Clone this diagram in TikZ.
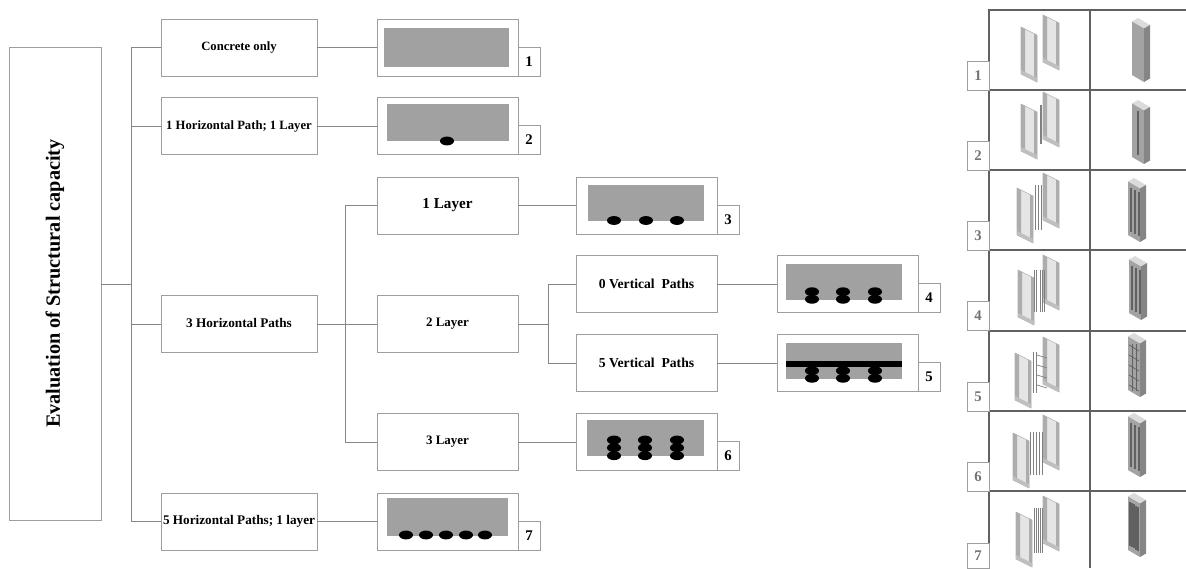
\documentclass[tikz,border=0pt]{standalone}
\usepackage{xcolor}
\usepackage{fontspec}
\setmainfont{Liberation Serif}
\usepackage{tikz}
\usetikzlibrary{arrows.meta,positioning,shapes.geometric,calc,fit,backgrounds}
\definecolor{boxline}{gray}{0.62}
\definecolor{conc}{gray}{0.63}
\tikzset{
  optbox/.style={draw=boxline, line width=0.7pt, fill=white, inner sep=0pt, align=center,
             font=\bfseries\fontsize{9}{11}\selectfont},
  numbox/.style={optbox, font=\bfseries\fontsize{10.5}{12}\selectfont},
  tabnum/.style={draw=boxline, line width=0.6pt, fill=white, inner sep=0pt, text=black!55,
             font=\bfseries\fontsize{10.5}{12}\selectfont},
  link/.style={draw=boxline!85!black, line width=0.7pt},
  gridl/.style={draw=black!62, line width=1pt},
  sect/.style={fill=conc, draw=none},
  bar/.style={ellipse, fill=black, draw=none, minimum width=10pt, minimum height=6.3pt, inner sep=0pt},
  rodl/.style={draw=black!50, line width=0.5pt},
  skin/.style={fill=black!10, draw=black!30, line width=0.4pt},
  edgef/.style={fill=black!32, draw=none},
  colside/.style={fill=black!36, draw=none},
  coldark/.style={fill=black!48, draw=none},
  coltop/.style={fill=black!14, draw=none},
  stripe/.style={draw=black!62, line width=0.8pt},
  pics/wallpanel/.style={code={
    \path[skin] (0,0) -- (16,8) -- (16,55) -- (0,47) -- cycle;
    \path[edgef] (0,0) -- (4,2) -- (4,49) -- (0,47) -- cycle;
    \path[edgef] (13,6.5) -- (16,8) -- (16,55) -- (13,53.5) -- cycle;
    \path[fill=black!25] (0,43) -- (16,51) -- (16,55) -- (0,47) -- cycle;
  }},
  pics/fullcol/.style={code={
    \path[coltop] (0,3.5) -- (6,0) -- (18,7) -- (12,10.5) -- cycle;
    \path[colside] (0,3.5) -- (12,10.5) -- (12,64) -- (0,57) -- cycle;
    \path[coldark] (12,10.5) -- (18,7) -- (18,60.5) -- (12,64) -- cycle;
  }},
}

\begin{document}
\begin{tikzpicture}[x=0.025cm,y=-0.025cm]
    \useasboundingbox (0,0) rectangle (1186,568);

    % main tree
    \node[optbox, minimum width=92*0.025cm, minimum height=473*0.025cm] (root) at (55,283.5)
      {\rotatebox{90}{\fontsize{14.4}{16}\selectfont Evaluation of Structural capacity}};
    \node[optbox, minimum width=156*0.025cm, minimum height=57*0.025cm] (conc) at (239,47.5) {Concrete only};
    \node[optbox, minimum width=156*0.025cm, minimum height=57*0.025cm] (hone) at (239,126) {1 Horizontal Path; 1 Layer};
    \node[optbox, minimum width=156*0.025cm, minimum height=57*0.025cm] (hthree) at (239,324) {\raisebox{2pt}{\fontsize{9.4}{11}\selectfont 3 Horizontal Paths}};
    \node[optbox, minimum width=156*0.025cm, minimum height=57*0.025cm] (hfive) at (239,521.5) {\fontsize{9.4}{11}\selectfont 5 Horizontal Paths; 1 layer};

    \node[optbox, minimum width=141*0.025cm, minimum height=57*0.025cm] (lone) at (447.5,205.5) {\fontsize{10.8}{12}\selectfont 1 Layer};
    \node[optbox, minimum width=141*0.025cm, minimum height=57*0.025cm] (ltwo) at (447.5,324) {\fontsize{9.2}{11}\selectfont 2 Layer};
    \node[optbox, minimum width=141*0.025cm, minimum height=57*0.025cm] (lthree) at (447.5,442) {\fontsize{9.2}{11}\selectfont 3 Layer};

    \node[optbox, minimum width=141*0.025cm, minimum height=57*0.025cm] (vzero) at (646.5,284) {\fontsize{9.7}{11}\selectfont 0 Vertical~ Paths};
    \node[optbox, minimum width=141*0.025cm, minimum height=57*0.025cm] (vfive) at (646.5,363) {\fontsize{9.7}{11}\selectfont 5 Vertical~ Paths};

    % section pictures
    \node[optbox, minimum width=141*0.025cm, minimum height=57*0.025cm] (secone) at (447.5,47.5) {};
    \node[optbox, minimum width=141*0.025cm, minimum height=57*0.025cm] (sectwo) at (447.5,126) {};
    \node[optbox, minimum width=141*0.025cm, minimum height=57*0.025cm] (secthree) at (646.5,205.5) {};
    \node[optbox, minimum width=141*0.025cm, minimum height=57*0.025cm] (secfour) at (847.5,284) {};
    \node[optbox, minimum width=141*0.025cm, minimum height=57*0.025cm] (secfive) at (847.5,363) {};
    \node[optbox, minimum width=141*0.025cm, minimum height=57*0.025cm] (secsix) at (646.5,442) {};
    \node[optbox, minimum width=141*0.025cm, minimum height=57*0.025cm] (secseven) at (447.5,521.5) {};

    \path[sect] (384,28) rectangle (509,67);
    \path[sect] (387,104) rectangle (509,141);
    \path[sect] (588,185) rectangle (704,221);
    \path[sect] (786,264) rectangle (902,300);
    \path[sect] (786,343) rectangle (902,379);
    \path[sect] (587,420) rectangle (704,456);
    \path[sect] (387,498) rectangle (508,536);
    \path[fill=black] (786,361) rectangle (902,367);

    \node[bar] (bb) at (447,141) {};
    \foreach \x in {614,646,677} \node[bar] (bc\x) at (\x,220.5) {};
    \foreach \x in {812,843,875} {
      \node[bar] (bd\x) at (\x,291.7) {};
      \node[bar] (be\x) at (\x,299.3) {};
      \node[bar] (bf\x) at (\x,370.7) {};
      \node[bar] (bg\x) at (\x,378.3) {};
    }
    \foreach \x in {614,645,677} {
      \node[bar] (bh\x) at (\x,440) {};
      \node[bar] (bi\x) at (\x,447.7) {};
      \node[bar] (bj\x) at (\x,455.7) {};
    }
    \foreach \x in {406,426,446,466,485} \node[bar] (bk\x) at (\x,535) {};

    % number tags
    \foreach \nm/\x/\y/\t in {tagone/529/62/1,tagtwo/529/140/2,tagthree/728/219.5/3,tagfour/929/297.5/4,
                              tagfive/929/376.5/5,tagsix/728/455.5/6,tagseven/529/536/7}
      \node[numbox, minimum width=22*0.025cm, minimum height=29*0.025cm] (\nm) at (\x,\y) {\t};

    % connectors
    \coordinate (trunk) at (131,284);
    \coordinate (trunkb) at (345,324);
    \coordinate (trunkc) at (548,324);
    \draw[link] (root.east |- trunk) -- (trunk);
    \draw[link] (conc.west) -| (trunk);
    \draw[link] (hone.west) -- (hone.west -| trunk);
    \draw[link] (hthree.west) -- (hthree.west -| trunk);
    \draw[link] (hfive.west) -| (trunk);
    \draw[link] (hthree.east) -- (ltwo.west);
    \draw[link] (lone.west) -| (trunkb);
    \draw[link] (lthree.west) -| (trunkb);
    \draw[link] (ltwo.east) -- (trunkc);
    \draw[link] (vzero.west) -| (trunkc);
    \draw[link] (vfive.west) -| (trunkc);
    \draw[link] (conc.east) -- (secone.west);
    \draw[link] (hone.east) -- (sectwo.west);
    \draw[link] (lone.east) -- (secthree.west);
    \draw[link] (vzero.east) -- (secfour.west);
    \draw[link] (vfive.east) -- (secfive.west);
    \draw[link] (lthree.east) -- (secsix.west);
    \draw[link] (hfive.east) -- (secseven.west);

    % table of models
    \draw[gridl] (1186,10) -- (989,10) -- (989,568);
    \draw[gridl] (1090,10) -- (1090,568);
    \foreach \y in {90,170,250,331,411,491} \draw[gridl] (989,\y) -- (1186,\y);
    \foreach \nm/\y/\t in {rowone/75.5/1,rowtwo/155.5/2,rowthree/235.5/3,rowfour/316/4,
                           rowfive/396.5/5,rowsix/476.5/6}
      \node[tabnum, minimum width=22*0.025cm, minimum height=29*0.025cm] (\nm) at (978,\y) {\t};
    \node[tabnum, minimum width=22*0.025cm, minimum height=25*0.025cm] (rowseven) at (978,555.5) {7};

    % wall panels, back and front
    \foreach \xa/\ya/\yb in {1021/27/15,1021/104/92,1017/188/173,1018/270/255,1015/353/337,1013/433/415,1016/512/496} {
      \pic at (1043,\yb) {wallpanel};
      \pic at (\xa,\ya) {wallpanel};
    }
    % reinforcement between the panels
    \draw[rodl, line width=0.8pt] (1041,105) -- (1041,144);
    \foreach \x in {1035,1038,1041} \draw[rodl] (\x,185) -- (\x,230);
    \foreach \x in {1034,1036,1040,1042,1044} \draw[rodl] (\x,270) -- (\x,312);
    \foreach \x in {1033,1036} \draw[rodl] (\x,352) -- (\x,393);
    \foreach \y in {355,365,375,385} \draw[rodl] (1037,\y) -- (1047,\y+3);
    \foreach \x in {1030,1033,1036,1039,1042} \draw[rodl] (\x,432) -- (\x,475);
    \foreach \x in {1034,1036,1038,1040,1042} \draw[rodl] (\x,508) -- (\x,553);

    % assembled columns
    \foreach \cx/\cy/\xs in {1132/18/{},1132/100/{6},1128/178/{3,7,11},1129/256/{3,7,11},1128/333/{},
                             1128/413/{3,7,11},1128/493/{2,4,6,8,10}} {
      \pic at (\cx,\cy) {fullcol};
      \foreach \s in \xs
        \draw[stripe] ({\cx+\s},{\cy+8+\s*0.58}) -- ++(0,44);
    }
    \foreach \k in {0,...,4} \draw[stripe, line width=0.5pt] (1129,345+\k*10) -- (1139,351+\k*10);
    \foreach \x in {1132,1136} \draw[stripe, line width=0.5pt] (\x,344) -- (\x,391);
\end{tikzpicture}
\end{document}
